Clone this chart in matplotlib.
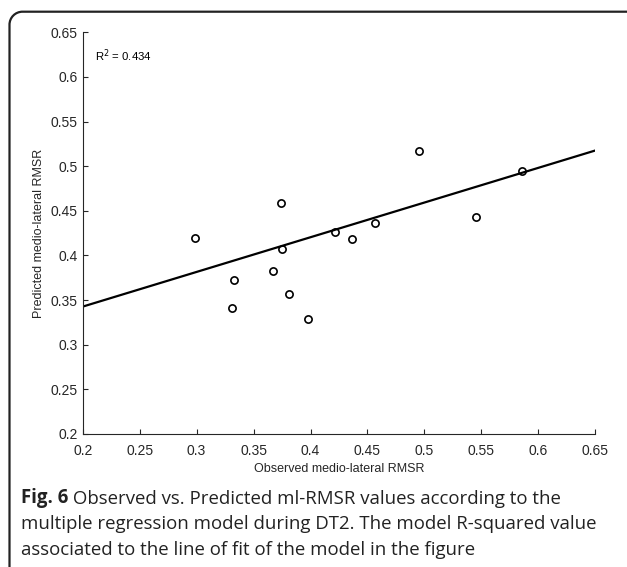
import numpy as np
import matplotlib
matplotlib.use('Agg')  # sin GUI

import matplotlib.pyplot as plt
from matplotlib.path import Path
from matplotlib.patches import PathPatch

plt.rcParams['font.family'] = ['Liberation Sans', 'DejaVu Sans']

# -------------------------------------------------------------------------------
# Datos
observed = [0.2985, 0.3312, 0.3330, 0.3672, 0.3737, 0.3751, 0.3807, 0.3974,
            0.4216, 0.4368, 0.4564, 0.4950, 0.5453, 0.5856]
predicted = [0.4201, 0.3416, 0.3730, 0.3827, 0.4593, 0.4077, 0.3566, 0.3286,
             0.4261, 0.4190, 0.4365, 0.5173, 0.4429, 0.4948]
fit_x = [0.2, 0.65]
fit_y = [0.3427, 0.5176]
r_squared = 0.434

ticks = [0.2, 0.25, 0.3, 0.35, 0.4, 0.45, 0.5, 0.55, 0.6, 0.65]
tick_labels = ['0.2', '0.25', '0.3', '0.35', '0.4', '0.45', '0.5', '0.55', '0.6', '0.65']

caption_bold = 'Fig. 6'
caption_lines = [' Observed vs. Predicted ml-RMSR values according to the',
                 'multiple regression model during DT2. The model R-squared value',
                 'associated to the line of fit of the model in the figure']
# -------------------------------------------------------------------------------

W, H = 627, 567
fig = plt.figure(figsize=(W / 100, H / 100), dpi=100)
fig.patch.set_facecolor('white')

axis_col = '#262626'
ax = fig.add_axes([82.7 / W, 1 - 434 / H, (595.3 - 82.7) / W, (434 - 32.3) / H])
ax.plot(fit_x, fit_y, color='black', lw=1.6, solid_capstyle='butt', zorder=2)
ax.plot(observed, predicted, 'o', ms=5.2, mfc='none', mec='black', mew=1.2, zorder=3)

ax.set_xlim(0.2, 0.65)
ax.set_ylim(0.2, 0.65)
ax.set_xticks(ticks)
ax.set_xticklabels(tick_labels)
ax.set_yticks(ticks)
ax.set_yticklabels(tick_labels)
for s in ['top', 'right']:
  ax.spines[s].set_visible(False)
for s in ['left', 'bottom']:
  ax.spines[s].set_color(axis_col)
  ax.spines[s].set_linewidth(0.8)
ax.tick_params(direction='in', length=3.8, width=0.8, colors=axis_col, labelsize=10)
ax.tick_params(axis='x', pad=7)
ax.tick_params(axis='y', pad=3.5)

ax.set_xlabel('Observed medio-lateral RMSR', fontsize=9, color=axis_col, labelpad=3.5)
ax.set_ylabel('Predicted medio-lateral RMSR', fontsize=9, color=axis_col, labelpad=4)
ax.text(0.2108, 0.6238, 'R$^2$ = %.3f' % r_squared, fontsize=8.2,
        color='black', va='center', ha='left')

# Marco con esquina redondeada (en pulgadas)
r = 0.13
x0 = 0.095
y0 = (H - 11.7) / 100
k = 0.5523 * r
verts = [(W / 100 + 0.05, y0), (x0 + r, y0),
         (x0 + r - k, y0), (x0, y0 - r + k), (x0, y0 - r),
         (x0, -0.05)]
codes = [Path.MOVETO, Path.LINETO, Path.CURVE4, Path.CURVE4, Path.CURVE4, Path.LINETO]
frame = PathPatch(Path(verts, codes), fill=False, lw=1.6, edgecolor='#222222',
                  transform=fig.dpi_scale_trans)
fig.patches.append(frame)

# Pie de figura
cap_font = 'Open Sans'
cap_size = 13.4
cap_col = '#222222'
baselines = [502.7, 529, 555]
bold = fig.text(21 / W, 1 - baselines[0] / H, caption_bold, fontsize=cap_size, weight='bold',
                family=cap_font, color=cap_col, va='baseline', ha='left')
ax.annotate(caption_lines[0], xy=(1, 0), xycoords=bold, va='bottom', ha='left',
            fontsize=cap_size, family=cap_font, color=cap_col, annotation_clip=False)
for line, b in zip(caption_lines[1:], baselines[1:]):
  fig.text(21 / W, 1 - b / H, line, fontsize=cap_size, family=cap_font,
           color=cap_col, va='baseline', ha='left')

plt.savefig('out.png', dpi=100)
plt.close('all')
